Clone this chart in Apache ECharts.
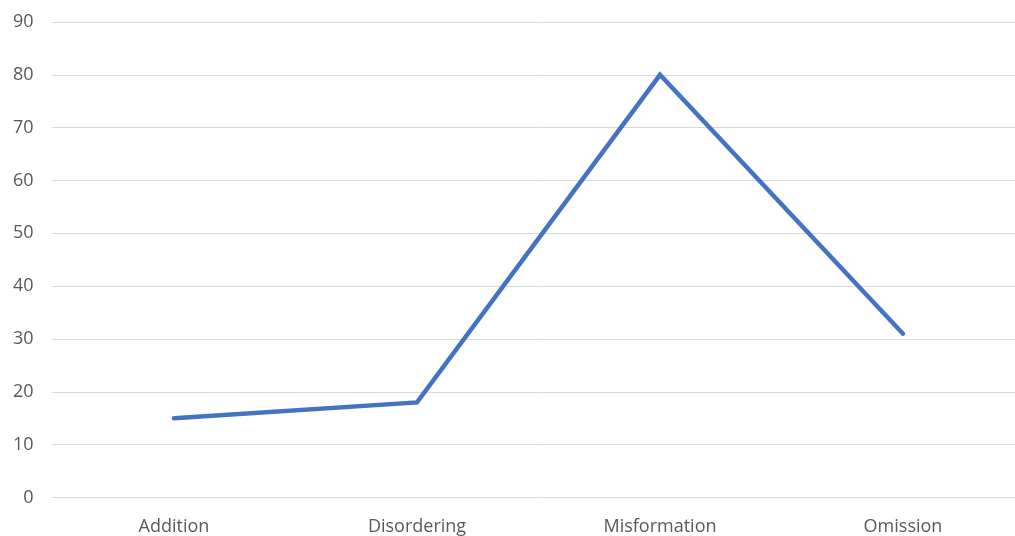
<!DOCTYPE html>
<html>
<head>
<meta charset="utf-8">
<script src="https://cdn.jsdelivr.net/npm/echarts@6/dist/echarts.min.js"></script>
<style>
html,body{margin:0;padding:0;background:#fff;overflow:hidden;}
#wrap{width:1015px;height:536px;overflow:hidden;}
#chart{width:1025px;height:536px;}
</style>
</head>
<body>
<div id="wrap"><div id="chart"></div></div>
<script>
const categories = ["Addition", "Disordering", "Misformation", "Omission"];
const errorValues = [15, 18, 80, 31];
const yTicks = [0, 10, 20, 30, 40, 50, 60, 70, 80, 90];

const labelFont = 'Open Sans, Liberation Sans, sans-serif';
const chart = echarts.init(document.getElementById('chart'));
chart.setOption({
  animation: false,
  backgroundColor: '#ffffff',
  grid: { left: 52.5, right: 0.5, top: 22, bottom: 38.5, containLabel: false },
  xAxis: {
    type: 'category',
    data: categories,
    boundaryGap: true,
    axisLine: { show: false },
    axisTick: { show: false },
    axisLabel: { color: '#595959', fontSize: 18, fontFamily: labelFont, margin: 20 }
  },
  yAxis: {
    type: 'value',
    min: yTicks[0],
    max: yTicks[yTicks.length - 1],
    interval: 10,
    axisLine: { show: false },
    axisTick: { show: false },
    axisLabel: { color: '#595959', fontSize: 18, fontFamily: labelFont, margin: 19 },
    splitLine: { lineStyle: { color: '#d9d9d9', width: 1 } }
  },
  series: [{
    type: 'line',
    data: errorValues,
    showSymbol: false,
    symbol: 'none',
    lineStyle: { color: '#4472c4', width: 4.5, cap: 'round', join: 'miter' }
  }]
});
</script>
</body>
</html>
